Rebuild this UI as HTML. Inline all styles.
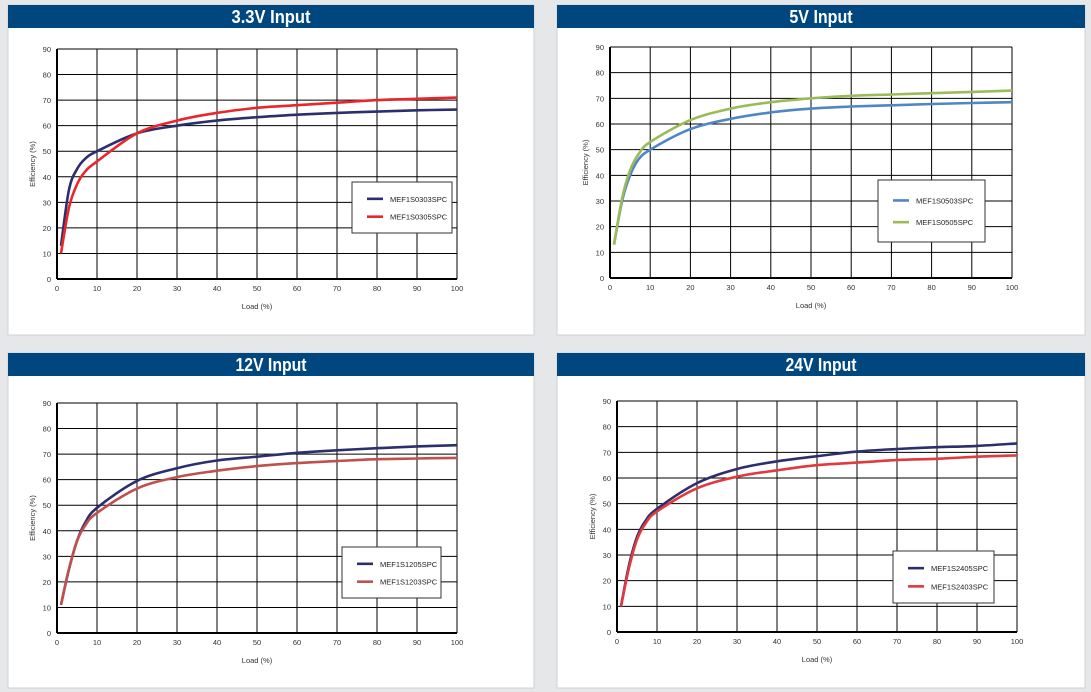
<!DOCTYPE html>
<html><head><meta charset="utf-8"><style>
body{margin:0;background:#e6e7e8;width:1091px;height:692px;overflow:hidden;font-family:"Liberation Sans",sans-serif}
svg{position:absolute;left:0;top:0}
</style></head><body>
<svg id="s" width="1091" height="692" xmlns="http://www.w3.org/2000/svg"></svg>
<script>
const P=[
 {px:8,py:5,pw:526,ph:330,hh:23,title:"3.3V Input",x0:57,x1:457,y90:49,y0:279,
  lg:[352,182,100,51],series:[
  ["#2b2f6e","MEF1S0303SPC",[[1,13],[3,35],[5,43],[7,47],[10,50],[20,57],[30,60],[40,62],[50,63.3],[60,64.3],[70,65],[80,65.5],[90,66],[100,66.3]]],
  ["#e8262b","MEF1S0305SPC",[[1,10],[3,28],[5,37],[7,42],[10,46],[20,57],[30,62],[40,65],[50,67],[60,68],[70,69],[80,70],[90,70.5],[100,71]]]]},
 {px:557,py:5,pw:528,ph:330,hh:23,title:"5V Input",x0:610,x1:1012,y90:47,y0:278,
  lg:[878,180,107,62],series:[
  ["#4f86c6","MEF1S0503SPC",[[1,13],[3,30],[5,40],[7,46],[10,50],[20,58],[30,62],[40,64.5],[50,66],[60,66.8],[70,67.3],[80,67.8],[90,68.2],[100,68.5]]],
  ["#9bbb59","MEF1S0505SPC",[[1,13],[3,31],[5,42],[7,48],[10,53],[20,61.5],[30,66],[40,68.5],[50,70],[60,71],[70,71.5],[80,72],[90,72.5],[100,73]]]]},
 {px:8,py:353,pw:526,ph:335,hh:23,title:"12V Input",x0:57,x1:457,y90:403,y0:633,
  lg:[342,547,99,51],series:[
  ["#2b2f6e","MEF1S1205SPC",[[1,11],[3,25],[5,36],[7,43],[10,49],[20,59.5],[30,64.5],[40,67.5],[50,69],[60,70.5],[70,71.5],[80,72.3],[90,73],[100,73.5]]],
  ["#c0504d","MEF1S1203SPC",[[1,11],[3,25],[5,36],[7,42],[10,47],[20,56.5],[30,61],[40,63.5],[50,65.3],[60,66.5],[70,67.3],[80,68],[90,68.3],[100,68.5]]]]},
 {px:557,py:353,pw:528,ph:335,hh:23,title:"24V Input",x0:617,x1:1017,y90:401,y0:632,
  lg:[893,551,101,52],series:[
  ["#2b2f6e","MEF1S2405SPC",[[1,10],[3,26],[5,37],[7,43],[10,48],[20,58],[30,63.5],[40,66.5],[50,68.5],[60,70.3],[70,71.3],[80,72],[90,72.5],[100,73.5]]],
  ["#e0393e","MEF1S2403SPC",[[1,10],[3,25],[5,36],[7,42],[10,47],[20,56],[30,60.5],[40,63],[50,65],[60,66],[70,67],[80,67.5],[90,68.3],[100,68.8]]]]}
];
let h="";
function smooth(pts){let d="M"+pts[0][0]+","+pts[0][1];
 for(let i=0;i<pts.length-1;i++){const p0=pts[Math.max(0,i-1)],p1=pts[i],p2=pts[i+1],p3=pts[Math.min(pts.length-1,i+2)];
 const c1=[p1[0]+(p2[0]-p0[0])/6,p1[1]+(p2[1]-p0[1])/6],c2=[p2[0]-(p3[0]-p1[0])/6,p2[1]-(p3[1]-p1[1])/6];
 d+=` C${c1[0].toFixed(1)},${c1[1].toFixed(1)} ${c2[0].toFixed(1)},${c2[1].toFixed(1)} ${p2[0].toFixed(1)},${p2[1].toFixed(1)}`;}return d;}
for(const p of P){
 h+=`<rect x="${p.px}" y="${p.py}" width="${p.pw}" height="${p.ph}" fill="#fff" stroke="#d0d2d4"/>`;
 h+=`<rect x="${p.px}" y="${p.py}" width="${p.pw}" height="${p.hh}" fill="#00477f"/>`;
 h+=`<text x="${p.px+p.pw/2}" y="${p.py+18}" text-anchor="middle" fill="#fff" font-size="18" font-weight="bold" textLength="${p.title.length*7.9}" lengthAdjust="spacingAndGlyphs">${p.title}</text>`;
 const sx=(p.x1-p.x0)/100,sy=(p.y0-p.y90)/90;
 for(let i=0;i<=10;i++){const x=p.x0+i*10*sx;h+=`<line x1="${x}" y1="${p.y90}" x2="${x}" y2="${p.y0}" stroke="#000" stroke-width="${i==0?2:1}"/>`;
  h+=`<text x="${x}" y="${p.y0+12}" font-size="7.5" text-anchor="middle" fill="#333">${i*10}</text>`;}
 for(let j=0;j<=9;j++){const y=p.y0-j*10*sy;h+=`<line x1="${p.x0}" y1="${y}" x2="${p.x1}" y2="${y}" stroke="#000" stroke-width="${j==0?2:1}"/>`;
  h+=`<text x="${p.x0-6}" y="${y+3}" font-size="7.5" text-anchor="end" fill="#333">${j*10}</text>`;}
 h+=`<text x="${(p.x0+p.x1)/2}" y="${p.y0+30}" font-size="7.5" text-anchor="middle" fill="#333">Load  (%)</text>`;
 const cy=(p.y0+p.y90)/2;h+=`<text x="${p.x0-22}" y="${cy}" font-size="7.5" text-anchor="middle" fill="#333" transform="rotate(-90 ${p.x0-22} ${cy})">Efficiency  (%)</text>`;
 for(const s of p.series){const pts=s[2].map(q=>[p.x0+q[0]*sx,p.y0-q[1]*sy]);
  h+=`<path d="${smooth(pts)}" fill="none" stroke="${s[0]}" stroke-width="2.6"/>`;}
 const [lx,ly,lw,lh]=p.lg;h+=`<rect x="${lx}" y="${ly}" width="${lw}" height="${lh}" fill="#fff" stroke="#333"/>`;
 p.series.forEach((s,k)=>{const y=ly+lh*(k==0?0.33:0.68);h+=`<line x1="${lx+15}" y1="${y}" x2="${lx+31}" y2="${y}" stroke="${s[0]}" stroke-width="2.6"/>`;
  h+=`<text x="${lx+38}" y="${y+3}" font-size="7.5" fill="#222">${s[1]}</text>`;});
}
document.getElementById("s").innerHTML=h;
</script>
</body></html>
